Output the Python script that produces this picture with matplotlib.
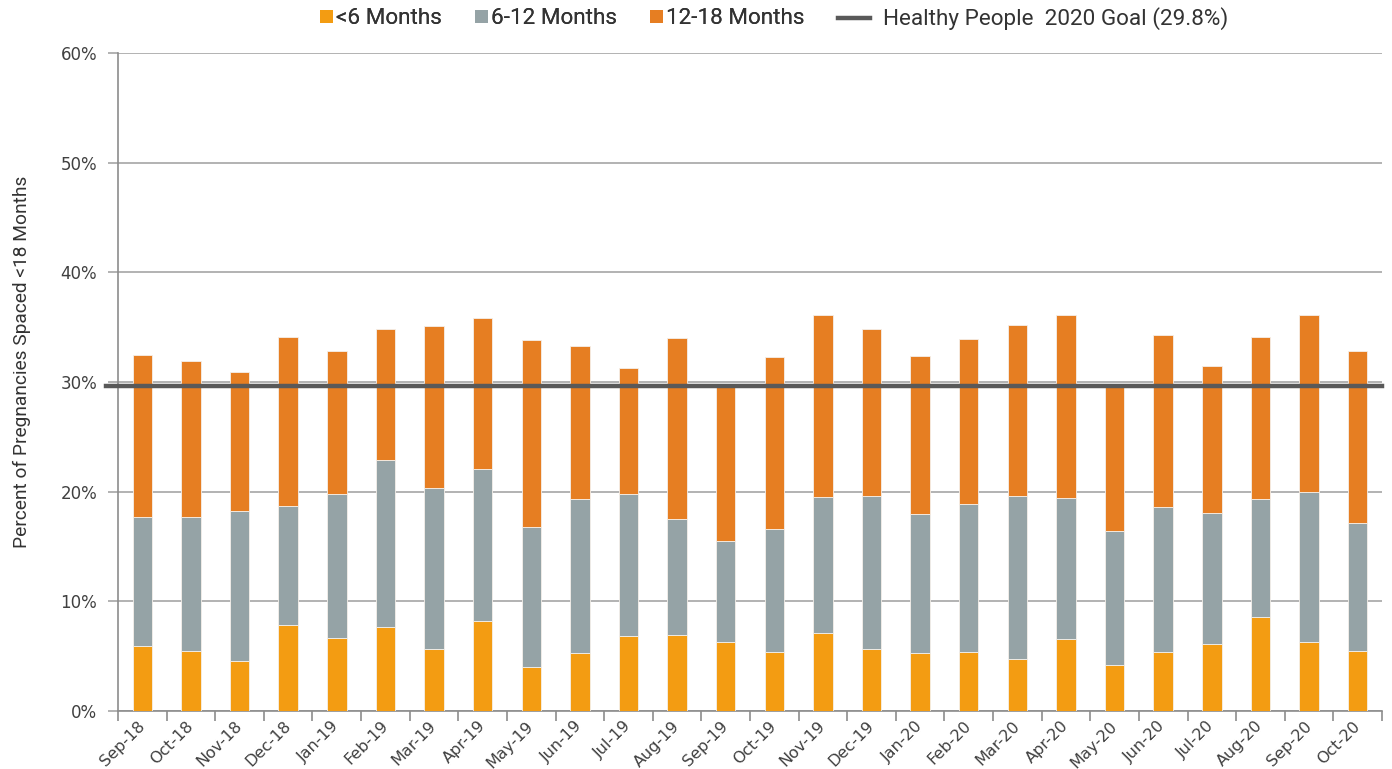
"""Stacked bars: share of pregnancies spaced <18 months, by interval band."""

import matplotlib

matplotlib.use("Agg")
import matplotlib.pyplot as plt
import numpy as np
from matplotlib.legend_handler import HandlerBase
from matplotlib.lines import Line2D
from matplotlib.patches import Patch, Rectangle

months = [
    "Sep-18", "Oct-18", "Nov-18", "Dec-18", "Jan-19", "Feb-19", "Mar-19",
    "Apr-19", "May-19", "Jun-19", "Jul-19", "Aug-19", "Sep-19", "Oct-19",
    "Nov-19", "Dec-19", "Jan-20", "Feb-20", "Mar-20", "Apr-20", "May-20",
    "Jun-20", "Jul-20", "Aug-20", "Sep-20", "Oct-20",
]
# cumulative tops (percent)
under6 = [5.9, 5.5, 4.6, 7.8, 6.7, 7.7, 5.7, 8.2, 4.0, 5.3, 6.8, 6.9, 6.3,
          5.4, 7.1, 5.7, 5.3, 5.4, 4.7, 6.6, 4.2, 5.4, 6.1, 8.6, 6.3, 5.5]
upto12 = [17.7, 17.7, 18.2, 18.7, 19.8, 22.9, 20.3, 22.1, 16.8, 19.3, 19.8,
          17.5, 15.5, 16.6, 19.5, 19.6, 18.0, 18.9, 19.6, 19.4, 16.4, 18.6,
          18.1, 19.3, 20.0, 17.1]
upto18 = [32.5, 31.9, 30.9, 34.1, 32.8, 34.8, 35.1, 35.8, 33.8, 33.3, 31.3,
          34.0, 29.5, 32.3, 36.1, 34.8, 32.4, 33.9, 35.2, 36.1, 29.8, 34.3,
          31.5, 34.1, 36.1, 32.8]
goal = 29.6

c_lt6 = "#F39C12"
c_6_12 = "#95A3A6"
c_12_18 = "#E67E22"
c_goal = "#595959"
c_grid = "#A6A6A6"
c_text = "#404040"

PX = 72 / 100  # one pixel in points at dpi 100


class SquareHandler(HandlerBase):
    # small square, vertically centred in the handle box
    def create_artists(self, legend, orig, xd, yd, width, height, fontsize, trans):
        side = 13 * PX
        r = Rectangle((-xd + width - side, -yd + (height - side) / 2), side, side,
                      facecolor=orig.get_facecolor(), edgecolor="none",
                      transform=trans)
        return [r]


plt.rcParams["font.family"] = ["Roboto", "DejaVu Sans"]

fig = plt.figure(figsize=(13.92, 7.69), dpi=100)
ax = fig.add_axes([0.0848, 0.0754, 0.9080, 0.8557])

x = np.arange(len(months))
a = np.array(under6)
b = np.array(upto12)
c = np.array(upto18)
w = 0.4
kw = dict(width=w, edgecolor="#F5F0EA", linewidth=0.6, zorder=3)
ax.bar(x, a, color=c_lt6, **kw)
ax.bar(x, b - a, bottom=a, color=c_6_12, **kw)
ax.bar(x, c - b, bottom=b, color=c_12_18, **kw)

ax.axhline(goal, xmin=-0.0095, xmax=1.0, color=c_goal, lw=3.2,
           zorder=4, clip_on=False)

ax.set_xlim(-0.5, len(months) - 0.5)
ax.set_ylim(0, 60)
ax.set_yticks(np.arange(0, 61, 10))
ax.set_yticklabels([f"{v}%" for v in range(0, 61, 10)],
                   family="DejaVu Sans")
ax.grid(axis="y", color=c_grid, lw=1.2, zorder=0)

ax.set_xticks(x)
ax.set_xticklabels(months, rotation=45, ha="right", va="center",
                   rotation_mode="anchor", family="DejaVu Sans")
ax.set_xticks(np.arange(-0.5, len(months)), minor=True)
ax.tick_params(axis="x", which="major", length=0, pad=9,
               labelsize=11.5, labelcolor=c_text)
ax.tick_params(axis="x", which="minor", length=7, color="#8C8C8C", width=1.2,
               direction="out")
ax.tick_params(axis="y", length=7, color=c_grid, width=1.2, pad=8,
               labelsize=12, labelcolor=c_text)

for s in ("top", "right"):
    ax.spines[s].set_visible(False)
for s in ("left", "bottom"):
    ax.spines[s].set_color("#8C8C8C")
    ax.spines[s].set_linewidth(1.2)

ax.set_ylabel("Percent of Pregnancies Spaced <18 Months", fontsize=13.8,
              color="#333333")
ax.yaxis.set_label_coords(-0.0688, 0.53)

# legend in two parts: squares for the bars, a longer line for the goal
fs = 16.2
W, H = fig.get_size_inches() * fig.dpi
sq1 = Patch(color=c_lt6, label="<6 Months")
sq2 = Patch(color=c_6_12, label="6-12 Months")
sq3 = Patch(color=c_12_18, label="12-18 Months")
leg1 = fig.legend(handles=[sq1, sq2, sq3], loc="center left",
                  bbox_to_anchor=(320 / W, 1 - 19 / H), ncol=3, frameon=False,
                  fontsize=fs, borderpad=0, borderaxespad=0,
                  handlelength=13 * PX / fs, handleheight=0.7,
                  handletextpad=3 * PX / fs, columnspacing=33 * PX / fs,
                  labelcolor="#333333", handler_map={Patch: SquareHandler()})
gl = Line2D([], [], color=c_goal, lw=3.2, label="Healthy People  2020 Goal (29.8%)")
fig.legend(handles=[gl], loc="center left",
           bbox_to_anchor=(838 / W, 1 - 19 / H), frameon=False,
           fontsize=fs, borderpad=0, borderaxespad=0,
           handlelength=32 * PX / fs, handletextpad=13 * PX / fs,
           labelcolor="#333333")
fig.add_artist(leg1)

fig.savefig("out.png")
